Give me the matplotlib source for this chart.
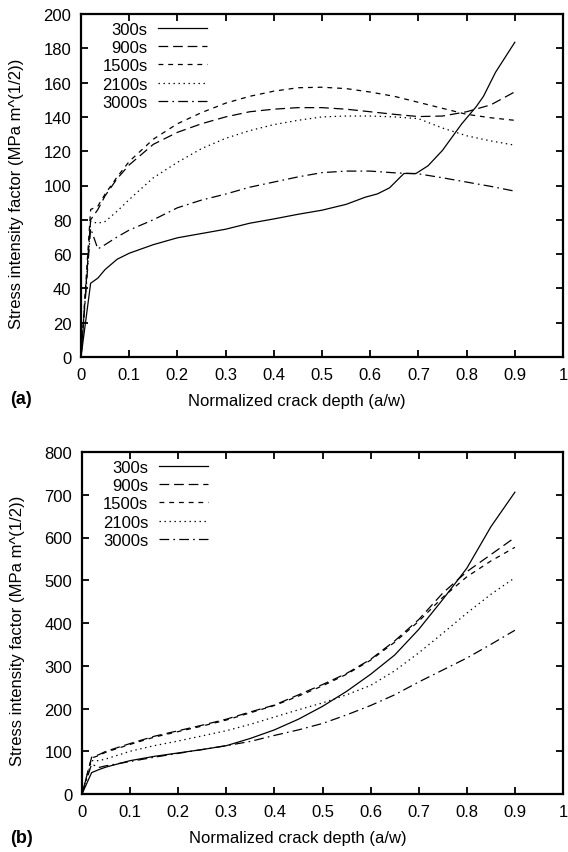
import matplotlib
matplotlib.use("Agg")
import matplotlib.pyplot as plt
from matplotlib.ticker import FuncFormatter, MultipleLocator

plt.rcParams["font.family"] = ["Liberation Sans", "DejaVu Sans"]
plt.rcParams["font.size"] = 12
plt.rcParams["lines.scale_dashes"] = False

labels = ["300s", "900s", "1500s", "2100s", "3000s"]

# ---------------------------------------------------------------------------
# (a) values
# ---------------------------------------------------------------------------
x_300a = [0, 0.02, 0.035, 0.05, 0.075, 0.1, 0.15, 0.2, 0.25, 0.3, 0.35, 0.4,
          0.45, 0.5, 0.55, 0.59, 0.615, 0.64, 0.67, 0.695, 0.72, 0.75, 0.79,
          0.82, 0.835, 0.86, 0.9]
k_300a = [0, 43, 46, 51, 57, 60.5, 65.5, 69.5, 72, 74.5, 78, 80.5,
          83.2, 85.6, 89, 93.2, 95.1, 98.6, 107, 107, 111.5, 120.5, 136,
          146, 152, 166, 183.5]

x_a = [0, 0.02, 0.035, 0.05, 0.075, 0.1, 0.15, 0.2, 0.25, 0.3, 0.35, 0.4,
       0.45, 0.5, 0.55, 0.6, 0.65, 0.7, 0.75, 0.8, 0.85, 0.9]
k_900a = [0, 80, 86, 94, 104, 112, 124, 131, 136, 140, 143, 144.5,
          145.4, 145.4, 144.5, 143, 141.5, 140.2, 140.5, 143, 147, 154.6]
k_1500a = [0, 86, 88, 95, 105, 114, 127, 136, 142.5, 148, 152, 155,
           157, 157.3, 156.5, 154.5, 152, 148.5, 145, 141.5, 139.5, 138]
k_2100a = [0, 79, 78, 79, 85, 91.8, 104.5, 113.5, 121.5, 127.5, 132, 135.5,
           138, 140, 140.5, 140.5, 140, 139, 133.5, 129, 126, 123.5]
k_3000a = [0, 75, 63, 65.5, 70, 74, 80, 87, 91.5, 95, 99, 102,
           105, 107.5, 108.4, 108.4, 107.4, 106.8, 104.5, 102, 99.5, 96.7]

# ---------------------------------------------------------------------------
# (b) values
# ---------------------------------------------------------------------------
x_b = [0, 0.02, 0.035, 0.05, 0.1, 0.15, 0.2, 0.25, 0.3, 0.35, 0.4, 0.45,
       0.5, 0.55, 0.6, 0.65, 0.7, 0.75, 0.8, 0.85, 0.9]
k_300b = [0, 50, 57, 63, 78, 88, 96, 104, 113, 130, 150, 175,
          205, 240, 280, 325, 385, 455, 528, 625, 706]
k_900b = [0, 86, 92, 100, 118, 135, 148, 161, 175, 192, 208, 232,
          256, 282, 315, 358, 408, 470, 520, 560, 600]
k_1500b = [0, 84, 90, 98, 116, 133, 146, 159, 173, 190, 207, 229,
           253, 280, 313, 355, 404, 460, 508, 545, 577]
k_2100b = [0, 78, 78, 82, 100, 113, 124, 136, 148, 163, 180, 197,
           213, 232, 254, 288, 330, 376, 423, 467, 506]
k_3000b = [0, 70, 62, 66, 76, 86, 95, 104, 113, 123, 137, 150,
           165, 185, 207, 232, 262, 290, 318, 350, 383]

# gnuplot-like line types
styles = [
    dict(linestyle="-"),
    dict(dashes=(7, 3.5)),
    dict(dashes=(3.5, 3.5)),
    dict(dashes=(1, 2.6)),
    dict(dashes=(7, 3, 1.2, 3)),
]

fig = plt.figure(figsize=(5.68, 8.53), dpi=100)
W, H = 568.0, 853.0
ax1 = fig.add_axes([81 / W, 1 - 358 / H, 482 / W, 343 / H])
ax2 = fig.add_axes([82 / W, 1 - 795 / H, 481 / W, 342 / H])

series_a = [(x_300a, k_300a), (x_a, k_900a), (x_a, k_1500a), (x_a, k_2100a), (x_a, k_3000a)]
series_b = [(x_b, k_300b), (x_b, k_900b), (x_b, k_1500b), (x_b, k_2100b), (x_b, k_3000b)]

for ax, series, ymax, ystep in [(ax1, series_a, 200, 20), (ax2, series_b, 800, 100)]:
    for (xs, ys), lab, st in zip(series, labels, styles):
        ax.plot(xs, ys, color="black", lw=0.9, label=lab, **st)
    ax.set_xlim(0, 1)
    ax.set_ylim(0, ymax)
    ax.xaxis.set_major_locator(MultipleLocator(0.1))
    ax.yaxis.set_major_locator(MultipleLocator(ystep))
    ax.xaxis.set_major_formatter(FuncFormatter(lambda v, p: f"{v:g}"))
    ax.tick_params(direction="in", top=True, right=True, length=5, width=1.3,
                   labelsize=12, pad=7)
    for sp in ax.spines.values():
        sp.set_linewidth(1.6)
    ax.set_xlabel("Normalized crack depth (a/w)")
    ax.xaxis.set_label_coords(0.448, -0.105)
    ax.set_ylabel("Stress intensity factor (MPa m^(1/2))")
    ax.yaxis.set_label_coords(-0.119, 0.48)
    ax.legend(loc="upper right", bbox_to_anchor=(0.261, 0.978), frameon=False,
              markerfirst=False, handlelength=2.9, handletextpad=0.65,
              labelspacing=0.2, borderpad=0, borderaxespad=0, fontsize=12)

fig.text(10 / W, 1 - 400 / H, "(a)", fontsize=13, fontweight="bold", va="center")
fig.text(10 / W, 1 - 839 / H, "(b)", fontsize=13, fontweight="bold", va="center")

fig.savefig("out.png", dpi=100)
